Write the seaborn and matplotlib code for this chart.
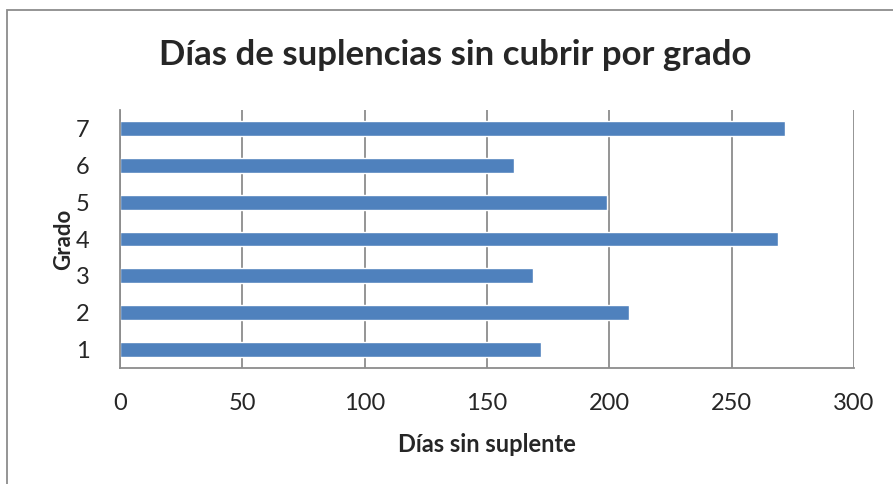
import pandas as pd
import matplotlib
matplotlib.use("Agg")
import matplotlib.pyplot as plt
import seaborn as sns
from matplotlib.patches import Rectangle

# Datos
grados = ["1", "2", "3", "4", "5", "6", "7"]
dias_sin_suplente = [172, 208, 169, 269, 199, 161, 272]

df = pd.DataFrame({"Grado": grados, "Dias": dias_sin_suplente})

sns.set_style("white")
plt.rcParams["font.family"] = ["Lato", "DejaVu Sans"]

fig = plt.figure(figsize=(8.93, 4.84), dpi=100)
ax = fig.add_axes([120 / 893, 1 - 368 / 484, (854 - 120) / 893, (368 - 110) / 484])

orden = grados[::-1]
sns.barplot(data=df, x="Dias", y="Grado", order=orden, orient="h",
            color="#4F81BD", saturation=1, width=0.4, ax=ax)

ax.set_xlim(0, 300)
ax.set_ylim(6.5, -0.5)
ax.set_xticks(range(0, 301, 50))
ax.grid(axis="x", color="#8c8c8c", linewidth=1.3)
ax.set_axisbelow(True)
for s in ["top", "right"]:
    ax.spines[s].set_visible(False)
ax.spines["left"].set_color("#8c8c8c")
ax.spines["bottom"].set_color("#8c8c8c")
ax.spines["left"].set_linewidth(1.3)
ax.spines["bottom"].set_linewidth(1.3)
ax.tick_params(axis="x", length=8, color="#8c8c8c", width=1.3, labelsize=17, pad=10)
ax.tick_params(axis="y", length=0, labelsize=17, pad=22)

ax.set_xlabel("Días sin suplente", fontsize=17, fontweight="bold", labelpad=14)
ax.set_ylabel("Grado", fontsize=16, fontweight="bold", labelpad=1)

fig.text(455 / 893, 1 - 55 / 484, "Días de suplencias sin cubrir por grado",
         ha="center", va="center", fontsize=25, fontweight="bold")

# marco del gráfico
fig.patches.append(Rectangle((7 / 893, -0.1), 1.1, 1 - 10 / 484 + 0.1,
                             transform=fig.transFigure, fill=False,
                             edgecolor="#8c8c8c", linewidth=1.3))

fig.savefig("out.png", dpi=100)
